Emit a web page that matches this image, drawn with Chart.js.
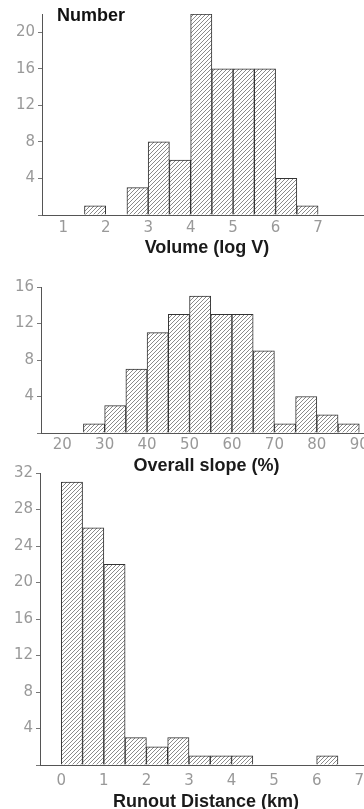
<!DOCTYPE html>
<html>
<head>
<meta charset="utf-8">
<script src="https://cdn.jsdelivr.net/npm/chart.js@4.4.1/dist/chart.umd.min.js"></script>
<style>
  html, body { margin: 0; padding: 0; background: #fff; overflow: hidden; width: 364px; height: 809px; }
  canvas { position: absolute; left: 0; }
  #numberLabel {
    position: absolute; left: 57px; top: 5px;
    font: bold 18px "Liberation Sans", Arial, sans-serif; color: #111;
  }
</style>
</head>
<body>
<canvas id="volume" width="372" height="259" style="top:0px"></canvas>
<canvas id="slope" width="372" height="210" style="top:267px"></canvas>
<canvas id="runout" width="372" height="360" style="top:453px"></canvas>
<div id="numberLabel">Number</div>
<script>
// Volume (log V) histogram, left edges of 0.5-wide bins
const volumeEdges = [1.5, 2, 2.5, 3, 3.5, 4, 4.5, 5, 5.5, 6, 6.5];
const volumeCounts = [1, 0, 3, 8, 6, 22, 16, 16, 16, 4, 1];
const volumeXTicks = [1, 2, 3, 4, 5, 6, 7];
const volumeYLabels = [4, 8, 12, 16, 20];

// Overall slope (%) histogram, 5%-wide bins
const slopeEdges = [25, 30, 35, 40, 45, 50, 55, 60, 65, 70, 75, 80, 85];
const slopeCounts = [1, 3, 7, 11, 13, 15, 13, 13, 9, 1, 4, 2, 1];
const slopeXTicks = [20, 30, 40, 50, 60, 70, 80, 90];
const slopeYLabels = [4, 8, 12, 16];

// Runout distance (km) histogram, 0.5 km bins
const runoutEdges = [0, 0.5, 1, 1.5, 2, 2.5, 3, 3.5, 4, 4.5, 5, 5.5, 6, 6.5];
const runoutCounts = [31, 26, 22, 3, 2, 3, 1, 1, 1, 0, 0, 0, 1, 0];
const runoutXTicks = [0, 1, 2, 3, 4, 5, 6, 7];
const runoutYLabels = [4, 8, 12, 16, 20, 24, 28, 32];

// diagonal hatch fill like the printed figure
function makeHatch() {
  const c = document.createElement("canvas");
  c.width = 4;
  c.height = 4;
  const g = c.getContext("2d");
  g.fillStyle = "#ffffff";
  g.fillRect(0, 0, 4, 4);
  g.strokeStyle = "#8a8a8a";
  g.lineWidth = 1;
  g.beginPath();
  g.moveTo(0, 4); g.lineTo(4, 0);
  g.moveTo(-1, 1); g.lineTo(1, -1);
  g.moveTo(3, 5); g.lineTo(5, 3);
  g.stroke();
  return g.createPattern(c, "repeat");
}
const hatch = makeHatch();

const tickFont = { family: "DejaVu Sans", size: 15 };
const titleFont = { family: "Liberation Sans", size: 18, weight: "bold" };

function makeHist(id, edges, counts, binWidth, cfg) {
  const points = edges.map((e, i) => ({ x: e + binWidth / 2, y: counts[i] }));
  return new Chart(document.getElementById(id), {
    type: "bar",
    data: {
      datasets: [{
        data: points,
        backgroundColor: hatch,
        borderColor: "#333",
        borderWidth: 1,
        borderSkipped: "bottom",
        barPercentage: 1,
        categoryPercentage: 1,
      }],
    },
    options: {
      responsive: false,
      animation: false,
      layout: { padding: { top: cfg.padTop, left: 0, right: 0, bottom: 0 } },
      plugins: { legend: { display: false }, tooltip: { enabled: false } },
      scales: {
        x: {
          type: "linear",
          min: cfg.xMin,
          max: cfg.xMax,
          offset: false,
          afterBuildTicks: (s) => { s.ticks = cfg.xTicks.map((v) => ({ value: v })); },
          afterFit: (s) => { s.height = cfg.xHeight; },
          grid: { display: false, drawTicks: false },
          border: { display: true, color: "#555", width: 1 },
          ticks: { color: "#999", font: tickFont, padding: cfg.tickPad, maxRotation: 0, autoSkip: false },
          title: { display: true, text: cfg.title, color: "#1a1a1a", font: titleFont, padding: 0 },
        },
        y: {
          min: 0,
          max: cfg.yMax,
          afterFit: (s) => { s.width = cfg.axisX; },
          ticks: {
            stepSize: 2,
            color: "#999",
            font: tickFont,
            padding: 3,
            callback: (v) => (cfg.yLabels.includes(v) ? v : ""),
          },
          grid: { drawOnChartArea: false, tickLength: 4, color: "#777" },
          border: { color: "#555", width: 1 },
        },
      },
    },
  });
}

makeHist("volume", volumeEdges, volumeCounts, 0.5, {
  padTop: 14, xMin: 0.5, xMax: 8.27, xTicks: volumeXTicks, xHeight: 44, tickPad: 4,
  title: "Volume (log V)", yMax: 22, yLabels: volumeYLabels, axisX: 42,
});

makeHist("slope", slopeEdges, slopeCounts, 5, {
  padTop: 20, xMin: 15, xMax: 93, xTicks: slopeXTicks, xHeight: 44, tickPad: 3,
  title: "Overall slope (%)", yMax: 16, yLabels: slopeYLabels, axisX: 41,
});

makeHist("runout", runoutEdges, runoutCounts, 0.5, {
  padTop: 20, xMin: -0.5, xMax: 7.3, xTicks: runoutXTicks, xHeight: 48, tickPad: 7,
  title: "Runout Distance (km)", yMax: 32, yLabels: runoutYLabels, axisX: 40,
});
</script>
</body>
</html>
